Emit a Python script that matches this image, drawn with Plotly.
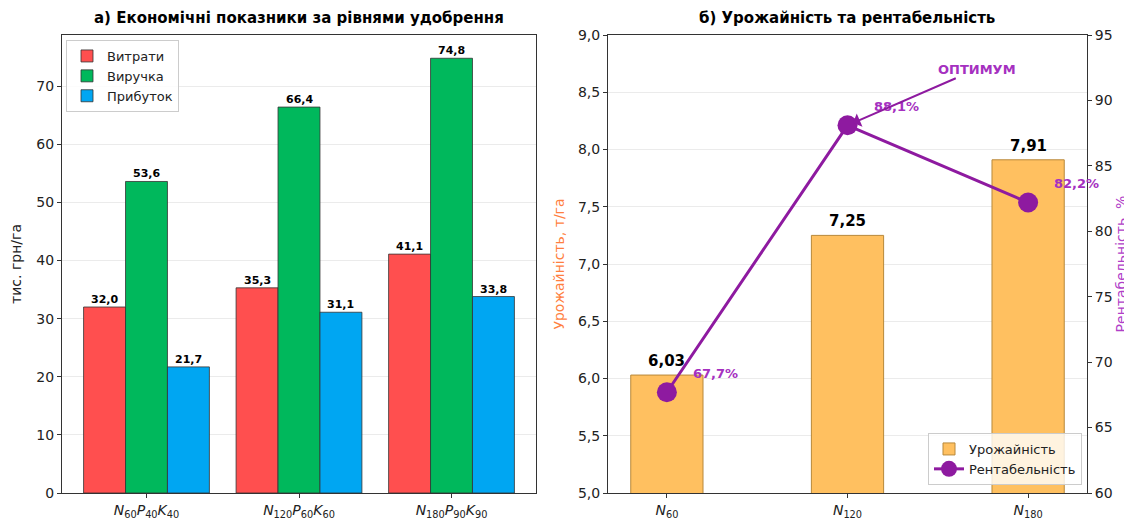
import plotly.graph_objects as go

# ---- data ----
left_tick_labels = ["<i>N</i><sub>60</sub><i>P</i><sub>40</sub><i>K</i><sub>40</sub>",
                    "<i>N</i><sub>120</sub><i>P</i><sub>60</sub><i>K</i><sub>60</sub>",
                    "<i>N</i><sub>180</sub><i>P</i><sub>90</sub><i>K</i><sub>90</sub>"]
costs = [32.0, 35.3, 41.1]
revenue = [53.6, 66.4, 74.8]
profit = [21.7, 31.1, 33.8]
series_names = ["Витрати", "Виручка", "Прибуток"]

right_tick_labels = ["<i>N</i><sub>60</sub>", "<i>N</i><sub>120</sub>", "<i>N</i><sub>180</sub>"]
yield_t = [6.03, 7.25, 7.91]
profitability = [67.7, 88.1, 82.2]

FONT = "DejaVu Sans"
colors = ["#FF4F4F", "#00B85C", "#00A6F2"]
PURPLE = "#8E1AA0"
PURPLE_TXT = "#A530C0"
ORANGE = "#FFC060"

# page has an 8px body margin -> compensate
O = 8
W, H = 1132 - O, 520 - O
ML, MR, MT, MB = 62 - O, 1132 - 1087, 35 - O, 520 - 493
PW = W - ML - MR
PH = H - MT - MB

def fmt(v, d):
    return f"{v:.{d}f}".replace(".", ",")

fig = go.Figure()
idx = list(range(len(costs)))
bw = 0.275
annotations = []
for k, (vals, name) in enumerate(zip([costs, revenue, profit], series_names)):
    off = -1.5 * bw + k * bw
    fig.add_trace(go.Bar(x=idx, y=vals, name=name, offset=off, width=bw,
                         marker=dict(color=colors[k], line=dict(color="#333333", width=0.8)),
                         xaxis="x", yaxis="y", legend="legend"))
    for i, v in zip(idx, vals):
        annotations.append(dict(x=i + off + bw / 2, y=v, xref="x", yref="y", text=f"<b>{fmt(v,1)}</b>",
                                showarrow=False, yanchor="bottom", yshift=-1,
                                font=dict(family=FONT, size=11, color="black")))

fig.add_trace(go.Bar(x=idx, y=yield_t, name="Урожайність", width=0.4,
                     marker=dict(color=ORANGE, line=dict(color="#B8883A", width=1)),
                     xaxis="x2", yaxis="y2", legend="legend2"))
for i, v in zip(idx, yield_t):
    annotations.append(dict(x=i, y=v, xref="x2", yref="y2", text=f"<b>{fmt(v,2)}</b>",
                            showarrow=False, yanchor="bottom", yshift=3,
                            font=dict(family=FONT, size=15, color="black")))

fig.add_trace(go.Scatter(x=idx, y=profitability, name="Рентабельність", mode="lines+markers",
                         line=dict(color=PURPLE, width=3), marker=dict(size=20, color=PURPLE),
                         xaxis="x2", yaxis="y3", legend="legend2"))
for i, v in zip(idx, profitability):
    annotations.append(dict(x=i, y=v, xref="x2", yref="y3", text=f"<b>{fmt(v,1)}%</b>",
                            showarrow=False, xanchor="left", yanchor="middle", xshift=24, yshift=19,
                            font=dict(family=FONT, size=13, color=PURPLE_TXT)))

best = profitability.index(max(profitability))
annotations.append(dict(x=idx[best], y=profitability[best], xref="x2", yref="y3",
                        text="<b>ОПТИМУМ</b>", showarrow=True, arrowhead=1, arrowsize=1.2,
                        arrowwidth=2, arrowcolor=PURPLE, ax=129, ay=-56, standoff=6,
                        font=dict(family=FONT, size=13, color=PURPLE_TXT)))

# titles (page pixel positions converted to paper)
ty = 1 + (35 - 18) / PH
annotations.append(dict(x=(299 - 62) / PW, y=ty, xref="paper", yref="paper",
                        xanchor="center", yanchor="middle",
                        text="<b>а) Економічні показники за рівнями удобрення</b>", showarrow=False,
                        font=dict(family=FONT, size=15, color="black")))
annotations.append(dict(x=(847 - 62) / PW, y=ty, xref="paper", yref="paper",
                        xanchor="center", yanchor="middle",
                        text="<b>б) Урожайність та рентабельність</b>", showarrow=False,
                        font=dict(family=FONT, size=15, color="black")))

axis_common = dict(showline=True, linecolor="#333333", linewidth=1, automargin=False,
                   ticks="outside", ticklen=4, tickcolor="#333333",
                   tickfont=dict(family=FONT, size=14, color="#222222"), zeroline=False)

fig.update_layout(
    width=W, height=H, margin=dict(l=ML, r=MR, t=MT, b=MB),
    paper_bgcolor="white", plot_bgcolor="white", separators=", ",
    barmode="overlay", font=dict(family=FONT),
    annotations=annotations,
    xaxis=dict(domain=[0, (536 - 62) / PW], range=[-0.554, 2.554], tickvals=idx,
               ticktext=left_tick_labels, anchor="y", mirror=True, showgrid=False, **axis_common),
    yaxis=dict(domain=[0, 1], range=[0, 78.8], dtick=10, anchor="x", mirror=True,
               showgrid=True, gridcolor="#EBEBEB",
               title=dict(text="тис. грн/га", font=dict(family=FONT, size=14, color="#222222"), standoff=14),
               **axis_common),
    xaxis2=dict(domain=[(608 - 62) / PW, 1], range=[-0.326, 2.326], tickvals=idx,
                ticktext=right_tick_labels, anchor="y2", mirror=True, showgrid=False, **axis_common),
    yaxis2=dict(domain=[0, 1], range=[5, 9], dtick=0.5, tickformat=".1f", anchor="x2",
                showgrid=True, gridcolor="#EBEBEB",
                title=dict(text="Урожайність, т/га", font=dict(family=FONT, size=14, color="#FF7F3F"), standoff=10),
                **axis_common),
    yaxis3=dict(range=[60, 95], dtick=5, overlaying="y2", side="right", anchor="x2", showgrid=False,
                title=dict(text="Рентабельність, %", font=dict(family=FONT, size=14, color="#B040C8"), standoff=2),
                **axis_common),
    legend=dict(x=(66 - 62) / PW, y=1 - (40 - 35) / PH, xanchor="left", yanchor="top",
                bgcolor="rgba(255,255,255,0.85)", bordercolor="#CCCCCC", borderwidth=1,
                font=dict(family=FONT, size=13, color="#222222")),
    legend2=dict(x=1 - 5 / PW, y=8 / PH, xanchor="right", yanchor="bottom",
                 bgcolor="rgba(255,255,255,0.8)", bordercolor="#CCCCCC", borderwidth=1,
                 font=dict(family=FONT, size=13, color="#222222")),
)

fig.write_html("out.html")
